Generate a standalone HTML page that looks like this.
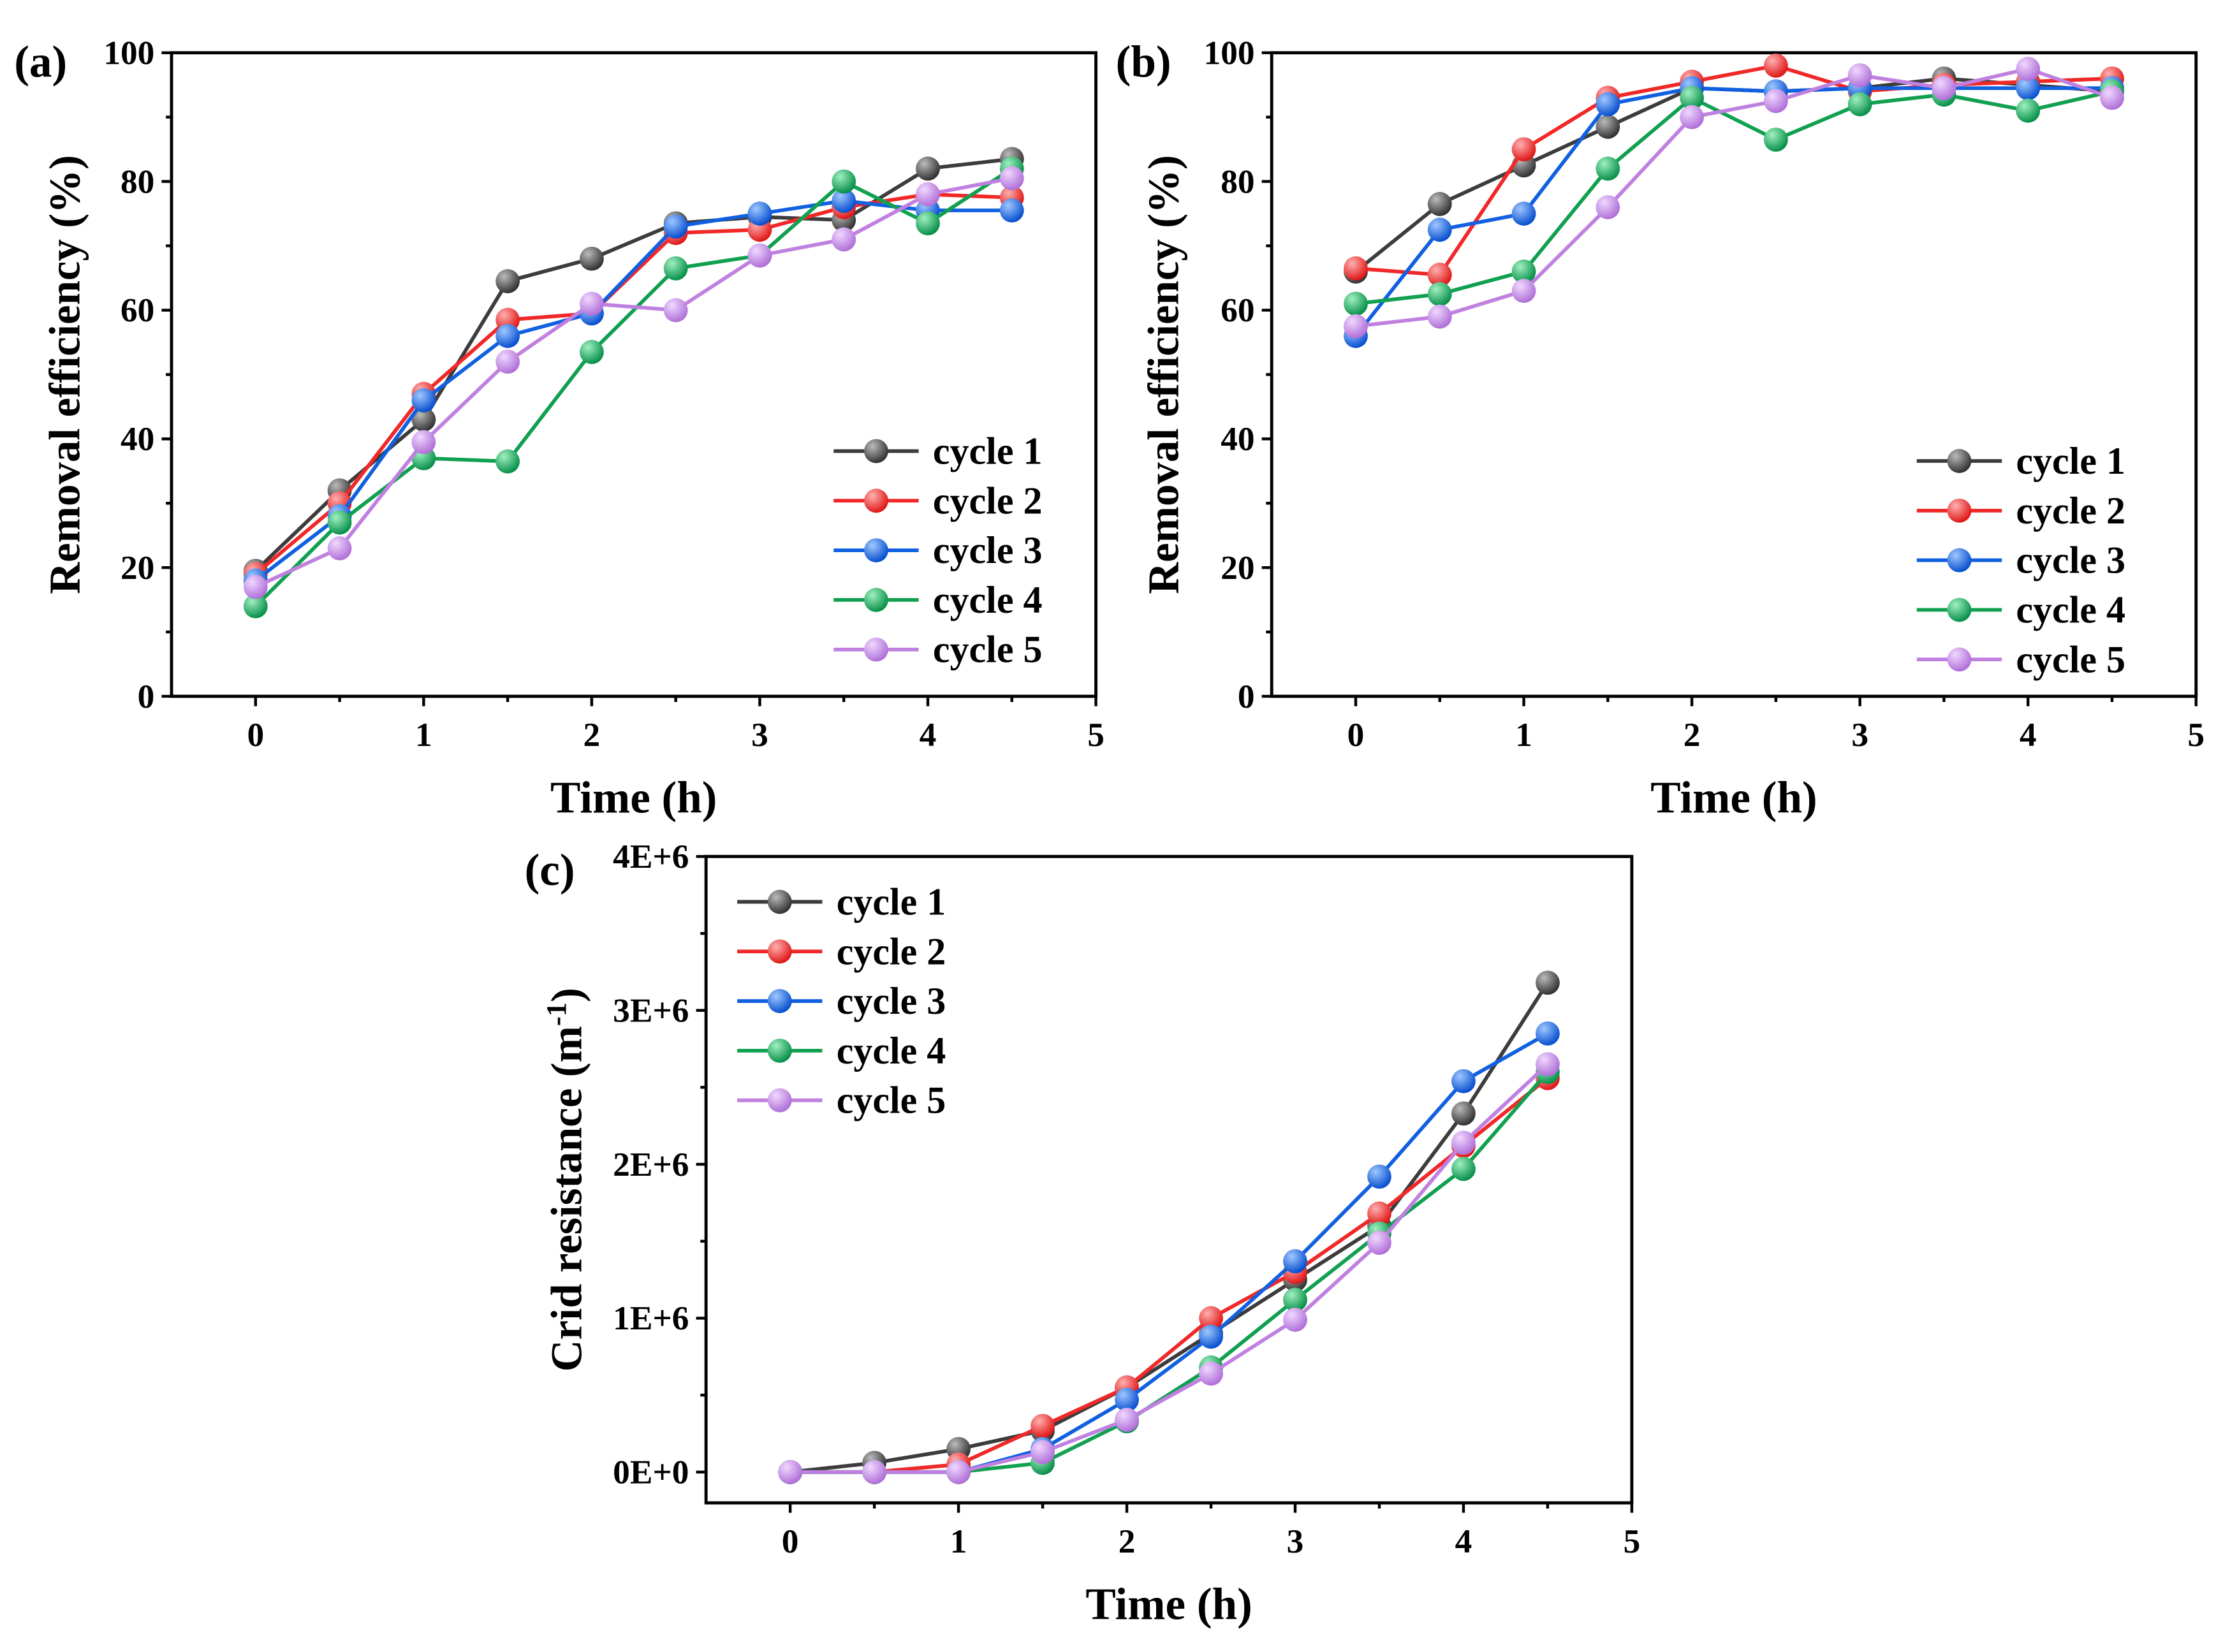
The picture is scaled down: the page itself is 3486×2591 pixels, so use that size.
<!DOCTYPE html>
<html><head><meta charset="utf-8"><style>
html,body{margin:0;padding:0;background:#fff;}
svg{display:block;font-family:"Liberation Serif",serif;font-weight:bold;}
</style></head><body>
<svg id="fig" width="3486" height="2591" viewBox="0 0 1568 1165" xmlns="http://www.w3.org/2000/svg">
<defs>
<radialGradient id="g0" cx="35%" cy="30%" r="70%"><stop offset="0" stop-color="#bbb"/><stop offset="1" stop-color="#333"/></radialGradient>
<radialGradient id="g1" cx="35%" cy="30%" r="70%"><stop offset="0" stop-color="#ffb0b0"/><stop offset="1" stop-color="#e01818"/></radialGradient>
<radialGradient id="g2" cx="35%" cy="30%" r="70%"><stop offset="0" stop-color="#a0c8ff"/><stop offset="1" stop-color="#0850d0"/></radialGradient>
<radialGradient id="g3" cx="35%" cy="30%" r="70%"><stop offset="0" stop-color="#a0f0c0"/><stop offset="1" stop-color="#08904a"/></radialGradient>
<radialGradient id="g4" cx="35%" cy="30%" r="70%"><stop offset="0" stop-color="#f0d8ff"/><stop offset="1" stop-color="#b070d8"/></radialGradient>
</defs>
</svg>
<script>
const times=[0,0.5,1,1.5,2,2.5,3,3.5,4,4.5];
const seriesNames=["cycle 1","cycle 2","cycle 3","cycle 4","cycle 5"];
const a1=[19.5,32,43,64.5,68,73.5,74.5,74,82,83.5];
const a2=[19,30,47,58.5,59.5,72,72.5,76,78,77.5];
const a3=[18,28,46,56,59.5,73,75,77,75.5,75.5];
const a4=[14,27,37,36.5,53.5,66.5,68.5,80,73.5,82];
const a5=[17,23,39.5,52,61,60,68.5,71,78,80.5];
const b1=[66,76.5,82.5,88.5,94.5,94,94.5,96,95,94];
const b2=[66.5,65.5,85,93,95.5,98,94,95,95.5,96];
const b3=[56,72.5,75,92,94.5,94,94.5,94.5,94.5,94.5];
const b4=[61,62.5,66,82,93,86.5,92,93.5,91,94];
const b5=[57.5,59,63,76,90,92.5,96.5,94.5,97.5,93];
const c1=[0,0.06,0.15,0.27,0.55,0.9,1.25,1.6,2.33,3.18];
const c2=[0,0,0.05,0.3,0.55,1.0,1.3,1.68,2.12,2.56];
const c3=[0,0,0,0.15,0.47,0.88,1.37,1.92,2.54,2.85];
const c4=[0,0,0,0.06,0.33,0.68,1.12,1.55,1.97,2.6];
const c5=[0,0,0,0.13,0.34,0.64,0.99,1.49,2.14,2.65];
const xTicks=[0,1,2,3,4,5];
const effTicks=[0,20,40,60,80,100];
const resTicks=[0,1,2,3,4];
const resLabels=["0E+0","1E+6","2E+6","3E+6","4E+6"];
const colors=["#3c3c3c","#f02828","#1060e0","#10a050","#c080e0"];
const svg=document.getElementById('fig');
const NS="http://www.w3.org/2000/svg";
function mk(tag,attrs,parent,text){const e=document.createElementNS(NS,tag);for(const k in attrs)e.setAttribute(k,attrs[k]);if(text!==undefined)e.textContent=text;(parent||svg).appendChild(e);return e;}
function panel(cfg){
  const g=mk('g',{});
  
  
  const {L,R,T,B,xmin,xmax,ymin,ymax}=cfg;
  const X=v=>L+(v-xmin)/(xmax-xmin)*(R-L);
  const Y=v=>B-(v-ymin)/(ymax-ymin)*(B-T);
  const box=mk('rect',{x:L,y:T,width:R-L,height:B-T,fill:'none',stroke:'#000','stroke-width':2.2},g);
  
  
  for(let v=0;v<=5;v+=0.5){const maj=Number.isInteger(v);mk('line',{x1:X(v),x2:X(v),y1:B,y2:B+(maj?7:4),stroke:'#000','stroke-width':2},g);}
  xTicks.forEach(v=>{const t=mk('text',{x:X(v),y:B+35,'font-size':24,'text-anchor':'middle'},g,String(v));
    
    });
  cfg.yt.forEach((v,i)=>{mk('line',{x1:L,x2:L-7,y1:Y(v),y2:Y(v),stroke:'#000','stroke-width':2},g);
    if(i<cfg.yt.length-1){const m=(v+cfg.yt[i+1])/2;mk('line',{x1:L,x2:L-4,y1:Y(m),y2:Y(m),stroke:'#000','stroke-width':2},g);}
    const t=mk('text',{x:L-12,y:Y(v)+8,'font-size':24,'text-anchor':'end'},g,cfg.yl[i]);
    
    });
  const xt=mk('text',{x:(L+R)/2,y:B+82,'font-size':32,'text-anchor':'middle'},g,'Time (h)');
  
  
  const yt=mk('text',{x:0,y:0,'font-size':31,'text-anchor':'middle',transform:`translate(${cfg.ytx},${(T+B)/2}) rotate(-90)`},g);
  
  
  if(cfg.sup){yt.textContent='Crid resistance (m';const s=mk('tspan',{dy:-11,'font-size':20},yt,'-1');mk('tspan',{dy:11},yt,')');}
  else yt.textContent='Removal efficiency (%)';
  const pl=mk('text',{x:cfg.plx,y:cfg.ply,'font-size':32},g,cfg.label);
  
  
  cfg.data.forEach((d,si)=>{
    const pts=times.map((t,i)=>X(t)+','+Y(d[i])).join(' ');
    const ln=mk('polyline',{points:pts,fill:'none',stroke:colors[si],'stroke-width':2.6},g);
    
    
    times.forEach((t,i)=>{const c=mk('circle',{cx:X(t),cy:Y(d[i]),r:8.5,fill:`url(#g${si})`},g);
      
      });
  });
  const lg=mk('g',{},g);
  
  
  seriesNames.forEach((n,si)=>{const y=cfg.lgy+si*35;
    const e=mk('g',{},lg);
    
    
    mk('line',{x1:cfg.lgx,x2:cfg.lgx+60,y1:y,y2:y,stroke:colors[si],'stroke-width':2.6},e);
    mk('circle',{cx:cfg.lgx+30,cy:y,r:8.5,fill:`url(#g${si})`},e);
    mk('text',{x:cfg.lgx+70,y:y+9,'font-size':27},e,n);});
}
panel({name:'panel-a',L:121,R:773,T:37,B:491,xmin:-0.5,xmax:5,ymin:0,ymax:100,yt:effTicks,yl:effTicks.map(String),ytx:56,plx:10,ply:54,label:'(a)',data:[a1,a2,a3,a4,a5],lgx:588,lgy:318});
panel({name:'panel-b',L:897,R:1549,T:37,B:491,xmin:-0.5,xmax:5,ymin:0,ymax:100,yt:effTicks,yl:effTicks.map(String),ytx:831,plx:787,ply:54,label:'(b)',data:[b1,b2,b3,b4,b5],lgx:1352,lgy:325});
panel({name:'panel-c',L:498,R:1151,T:604,B:1060,xmin:-0.5,xmax:5,ymin:-0.2,ymax:4,yt:resTicks,yl:resLabels,ytx:410,sup:true,plx:370,ply:624,label:'(c)',data:[c1,c2,c3,c4,c5],lgx:520,lgy:636});
</script>
</body></html>
